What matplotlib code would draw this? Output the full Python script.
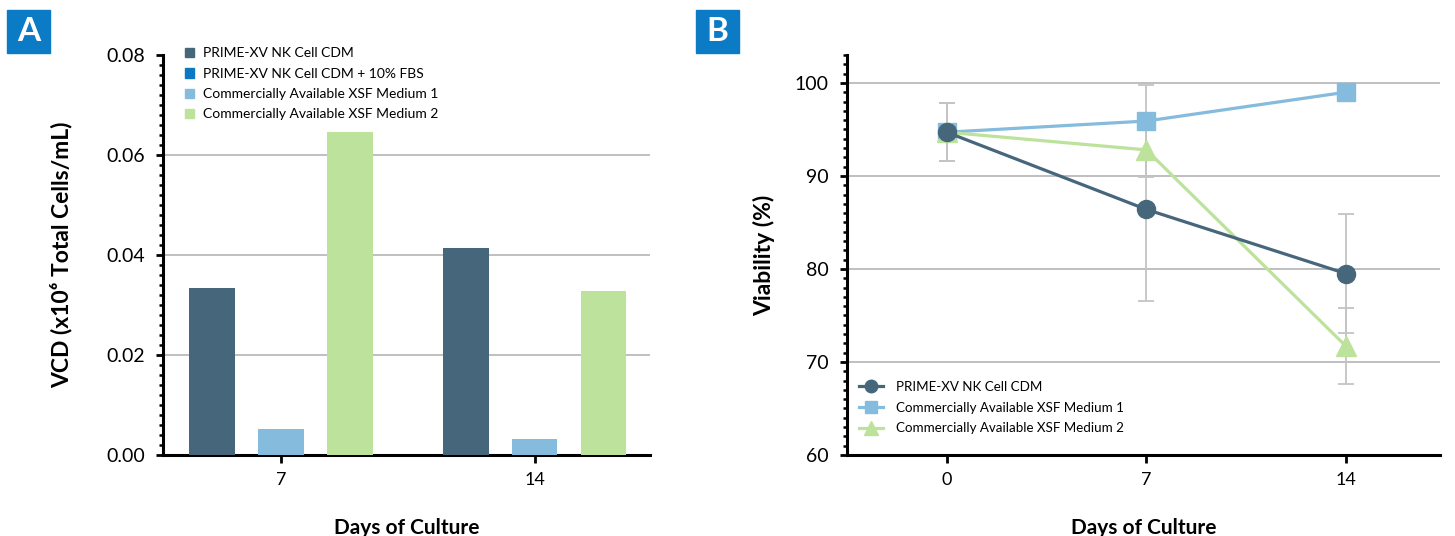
import numpy as np
import matplotlib.pyplot as plt
from matplotlib.patches import Patch, Rectangle
from matplotlib.lines import Line2D
from matplotlib.ticker import MultipleLocator

plt.rcParams['font.family'] = ['Lato', 'DejaVu Sans']

# ── Panel A: viable cell density per day ──
days_a = ['7', '14']
vcd_cdm = [0.0334, 0.0414]
vcd_xsf1 = [0.0052, 0.0032]
vcd_xsf2 = [0.0646, 0.0328]
vcd_ticks = [0.00, 0.02, 0.04, 0.06, 0.08]
vcd_ticklabels = ['0.00', '0.02', '0.04', '0.06', '0.08']

# ── Panel B: viability (%) with error bars ──
days_b = [0, 7, 14]
via_cdm = [94.7, 86.4, 79.5]
via_cdm_err = [3.1, 9.8, 6.4]
via_xsf1 = [94.7, 95.9, 99.0]
via_xsf1_err = [3.1, 3.9, 0.0]
via_xsf2 = [94.7, 92.8, 71.7]
via_xsf2_err = [3.1, 2.9, 4.1]
via_ticks = [60, 70, 80, 90, 100]

labels_a = ['PRIME-XV NK Cell CDM', 'PRIME-XV NK Cell CDM + 10% FBS',
            'Commercially Available XSF Medium 1', 'Commercially Available XSF Medium 2']
labels_b = ['PRIME-XV NK Cell CDM', 'Commercially Available XSF Medium 1',
            'Commercially Available XSF Medium 2']

C_CDM = '#46677b'
C_FBS = '#0a78c2'
C_XSF1 = '#85bbdc'
C_XSF2 = '#bde29b'
C_BOX = '#0a7bc4'
C_GRID = '#b4b4b4'
C_ERR = '#c4c4c4'

fig = plt.figure(figsize=(14.55, 5.36), dpi=100)
axA = fig.add_axes([0.1120, 0.1511, 0.3347, 0.7463])
axB = fig.add_axes([0.5821, 0.1511, 0.4076, 0.7463])


def style_axes(ax):
    for s in ('top', 'right'):
        ax.spines[s].set_visible(False)
    for s in ('left', 'bottom'):
        ax.spines[s].set_linewidth(2.2)
        ax.spines[s].set_color('black')
    ax.tick_params(axis='y', which='major', direction='out', length=5, width=2,
                   labelsize=14, pad=8)
    ax.tick_params(axis='y', which='minor', direction='out', length=3, width=1.8)
    ax.tick_params(axis='x', which='major', direction='out', length=6, width=2,
                   labelsize=13, pad=6)


# ── A: grouped bars ──
x = np.arange(len(days_a))
step, width = 0.272, 0.181
axA.bar(x - step, vcd_cdm, width, color=C_CDM, zorder=3)
axA.bar(x, vcd_xsf1, width, color=C_XSF1, zorder=3)
axA.bar(x + step, vcd_xsf2, width, color=C_XSF2, zorder=3)
for v in vcd_ticks[1:-1]:
    axA.axhline(v, color=C_GRID, lw=1.2, zorder=1)
axA.set_xlim(-0.465, 1.455)
axA.set_ylim(0, 0.08)
axA.set_xticks(x)
axA.set_xticklabels(days_a)
axA.set_yticks(vcd_ticks)
axA.set_yticklabels(vcd_ticklabels)
axA.yaxis.set_minor_locator(MultipleLocator(0.002))
style_axes(axA)
axA.set_xlabel('Days of Culture', fontsize=15, fontweight='bold', labelpad=22)
axA.set_ylabel('VCD (x10⁶ Total Cells/mL)', fontsize=16.5, fontweight='bold', labelpad=24)
handles_a = [Patch(color=c) for c in (C_CDM, C_FBS, C_XSF1, C_XSF2)]
axA.legend(handles_a, labels_a, loc='upper left', bbox_to_anchor=(0.02, 1.05),
           frameon=False, fontsize=10, handlelength=0.65, handleheight=0.65,
           handletextpad=0.6, labelspacing=0.6)

# ── B: viability lines ──
for v in via_ticks[1:]:
    axB.axhline(v, color=C_GRID, lw=1.2, zorder=1)
for vals, err in ((via_cdm, via_cdm_err), (via_xsf1, via_xsf1_err), (via_xsf2, via_xsf2_err)):
    axB.errorbar(days_b, vals, yerr=err, fmt='none', ecolor=C_ERR, elinewidth=1.3,
                 capsize=6, capthick=1.3, zorder=2)
axB.plot(days_b, via_xsf1, color=C_XSF1, marker='s', ms=13, lw=2.3, zorder=4)
axB.plot(days_b, via_xsf2, color=C_XSF2, marker='^', ms=14, lw=2.3, zorder=5)
axB.plot(days_b, via_cdm, color=C_CDM, marker='o', ms=13, lw=2.3, zorder=6)
axB.set_xlim(-3.5, 17.3)
axB.set_ylim(60, 103)
axB.set_xticks(days_b)
axB.set_yticks(via_ticks)
axB.yaxis.set_minor_locator(MultipleLocator(1))
style_axes(axB)
axB.set_xlabel('Days of Culture', fontsize=15, fontweight='bold', labelpad=22)
axB.set_ylabel('Viability (%)', fontsize=16.5, fontweight='bold', labelpad=14)
handles_b = [Line2D([], [], color=C_CDM, marker='o', ms=9, lw=2.3),
             Line2D([], [], color=C_XSF1, marker='s', ms=9, lw=2.3),
             Line2D([], [], color=C_XSF2, marker='^', ms=10, lw=2.3)]
axB.legend(handles_b, labels_b, loc='lower left', bbox_to_anchor=(0.0, 0.022),
           frameon=False, fontsize=9.6, handlelength=1.8, handletextpad=1.0,
           labelspacing=0.65)

# ── panel letters ──
for letter, x0 in (('A', 7), ('B', 696)):
    fig.patches.append(Rectangle((x0 / 1455, 1 - 53 / 536), 43 / 1455, 43 / 536,
                                 transform=fig.transFigure, color=C_BOX))
    fig.text((x0 + 21.5) / 1455, 1 - 31.5 / 536, letter, color='white',
             fontsize=24, fontweight='bold', ha='center', va='center')

fig.savefig('out.png', dpi=100)
